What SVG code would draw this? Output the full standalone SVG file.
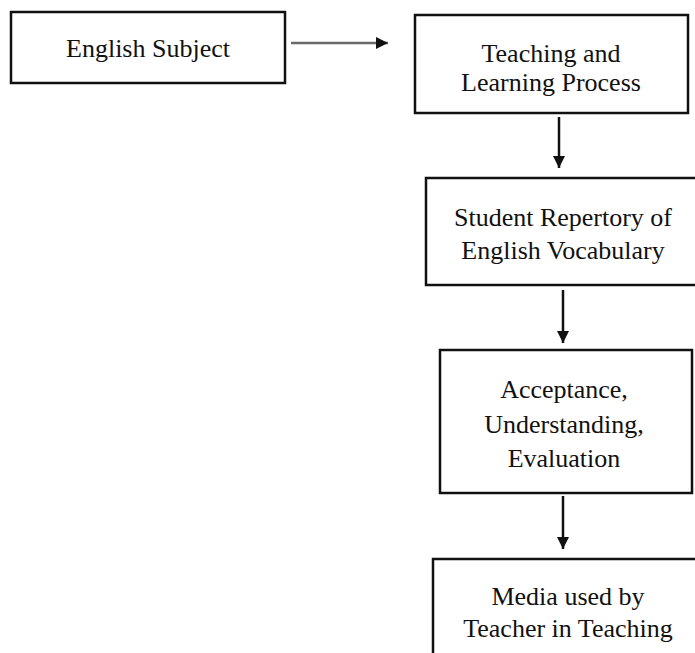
<svg xmlns="http://www.w3.org/2000/svg" width="695" height="653" viewBox="0 0 695 653">
<style>
.box{fill:#fff;stroke:#111;stroke-width:2.5}
.t{font-family:"Liberation Serif",serif;font-size:26px;fill:#111;text-anchor:middle}
.c{stroke:#111;stroke-width:2.5;fill:none}
</style>
<defs>
<marker id="ah" markerWidth="12" markerHeight="12" refX="10" refY="5" orient="auto" markerUnits="userSpaceOnUse" viewBox="0 0 10 10">
<path d="M0,0 L10,5 L0,10 Z" fill="#111"/>
</marker>
</defs>
<rect width="695" height="653" fill="#fff"/>
<g id="connectors">
<line class="c" x1="291" y1="43" x2="388" y2="43" style="stroke:#6a6a6a" marker-end="url(#ah)"/>
<line class="c" x1="559" y1="117" x2="559" y2="168" marker-end="url(#ah)"/>
<line class="c" x1="563" y1="290" x2="563" y2="343" marker-end="url(#ah)"/>
<line class="c" x1="563" y1="496" x2="563" y2="549" marker-end="url(#ah)"/>
</g>
<g id="n1">
<rect class="box" x="11" y="12" width="274" height="71"/>
<text class="t" x="148" y="57">English Subject</text>
</g>
<g id="n2">
<rect class="box" x="415" y="15" width="273" height="98"/>
<text class="t" x="551" y="62">Teaching and</text>
<text class="t" x="551" y="91">Learning Process</text>
</g>
<g id="n3">
<rect class="box" x="426" y="178" width="275" height="107"/>
<text class="t" x="563" y="226">Student Repertory of</text>
<text class="t" x="563" y="259">English Vocabulary</text>
</g>
<g id="n4">
<rect class="box" x="440" y="350" width="252" height="143"/>
<text class="t" x="564" y="398">Acceptance,</text>
<text class="t" x="564" y="433">Understanding,</text>
<text class="t" x="564" y="467">Evaluation</text>
</g>
<g id="n5">
<rect class="box" x="433" y="559" width="275" height="110"/>
<text class="t" x="568" y="605">Media used by</text>
<text class="t" x="568" y="637">Teacher in Teaching</text>
</g>
</svg>
